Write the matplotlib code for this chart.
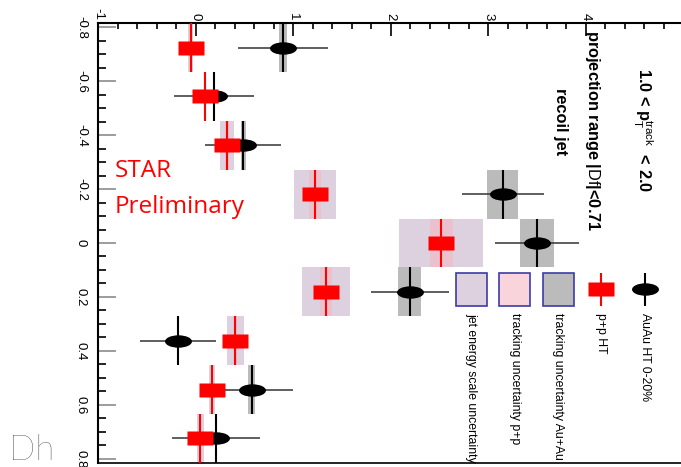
import numpy as np
import matplotlib
matplotlib.use("Agg")
import matplotlib.pyplot as plt
from matplotlib import font_manager
from matplotlib.path import Path
from matplotlib.patches import Rectangle
from matplotlib.ticker import MultipleLocator

# ---------------------------------------------------------------- data
# Delta-eta bin centres and half width of each bin
eta = [-0.724, -0.543, -0.362, -0.181, 0.0, 0.181, 0.362, 0.543, 0.724]
eta_halfwidth = 0.0905

# Au+Au HT 0-20%: yield, statistical error, tracking systematic
auau = [0.90, 0.19, 0.49, 3.15, 3.50, 2.195, -0.18, 0.575, 0.21]
auau_stat = [0.46, 0.41, 0.39, 0.42, 0.43, 0.40, 0.39, 0.42, 0.455]
auau_trk_sys = [0.04, 0.01, 0.025, 0.16, 0.175, 0.113, 0.01, 0.034, 0.01]

# p+p HT: yield, tracking systematic, jet-energy-scale systematic
pp = [-0.05, 0.10, 0.325, 1.23, 2.52, 1.34, 0.41, 0.17, 0.05]
pp_trk_sys = [0.015, 0.01, 0.02, 0.062, 0.116, 0.065, 0.02, 0.01, 0.01]
pp_jes_sys = [0.026, 0.01, 0.074, 0.215, 0.43, 0.245, 0.089, 0.03, 0.034]

value_ticks = [-1, 0, 1, 2, 3, 4, 5]
value_ticklabels = ["-1", "0", "1", "2", "3", "4", "5"]
eta_ticks = [-0.8, -0.6, -0.4, -0.2, 0.0, 0.2, 0.4, 0.6, 0.8]
eta_ticklabels = ["-0.8", "-0.6", "-0.4", "-0.2", "0", "0.2", "0.4", "0.6", "0.8"]

legend_labels = ["AuAu HT 0-20%", "p+p HT", "tracking uncertainty Au+Au",
                 "tracking uncertainty p+p", "jet energy scale uncertainty"]

# ---------------------------------------------------------------- style
def has_font(name):
    try:
        font_manager.findfont(name, fallback_to_default=False)
        return True
    except Exception:
        return False

NARROW = has_font("Liberation Sans Narrow")
NARROW_FAMILY = ["Liberation Sans Narrow", "Liberation Sans", "DejaVu Sans"] if NARROW \
    else ["Liberation Sans", "DejaVu Sans"]
LEG_SIZE = 10.2 if NARROW else 8.8
HEAD_SIZE = 14.0 if NARROW else 11.8

plt.rcParams["font.family"] = ["Liberation Sans", "DejaVu Sans"]
plt.rcParams["axes.unicode_minus"] = False
plt.rcParams["mathtext.fontset"] = "custom"
plt.rcParams["mathtext.rm"] = "Liberation Sans"
plt.rcParams["mathtext.bf"] = "Liberation Sans:bold"
plt.rcParams["mathtext.it"] = "Liberation Sans:italic"

RED = "#ff0000"
GRAY = "#bbbbbb"
PINK = "#f5b8c4"
PINK_ALPHA = 0.6
LAVENDER = "#ddd0df"
BOX_EDGE = "#3c3ca8"

# markers: flattened ellipse (Au+Au) and flat rectangle (p+p)
circ = Path.unit_circle()
ellipse_marker = Path(circ.vertices * np.array([1.0, 0.46]), circ.codes)
rect_marker = Path([(-1, -0.54), (1, -0.54), (1, 0.54), (-1, 0.54), (-1, -0.54)],
                   [Path.MOVETO, Path.LINETO, Path.LINETO, Path.LINETO, Path.CLOSEPOLY])
MS = 19.4

W, H = 681, 467
fig = plt.figure(figsize=(W / 100, H / 100), dpi=100)
ax = fig.add_axes([98 / W, 4 / H, 585 / W, 440 / H])
ax.set_xlim(-1, 5)
ax.set_ylim(0.815, -0.815)

eta_a = np.array(eta)
auau_a, auau_stat_a, auau_sys_a = map(np.array, (auau, auau_stat, auau_trk_sys))
pp_a, pp_trk_a, pp_jes_a = map(np.array, (pp, pp_trk_sys, pp_jes_sys))

# systematic boxes
ax.barh(eta_a, 2 * pp_jes_a, left=pp_a - pp_jes_a, height=2 * eta_halfwidth,
        color=LAVENDER, lw=0, zorder=1)
ax.barh(eta_a, 2 * pp_trk_a, left=pp_a - pp_trk_a, height=2 * eta_halfwidth,
        color=PINK, alpha=PINK_ALPHA, lw=0, zorder=1.1)
ax.barh(eta_a, 2 * auau_sys_a, left=auau_a - auau_sys_a, height=2 * eta_halfwidth,
        color=GRAY, lw=0, zorder=1.2)

# Au+Au points
ax.hlines(eta_a, auau_a - auau_stat_a, auau_a + auau_stat_a, color="#333333", lw=1.1, zorder=3)
ax.vlines(auau_a, eta_a - eta_halfwidth, eta_a + eta_halfwidth, color="black", lw=1.5, zorder=3)
ax.plot(auau_a, eta_a, ls="none", marker=ellipse_marker, ms=MS, mfc="black",
        mec="none", zorder=4)

# p+p points
ax.vlines(pp_a, eta_a - eta_halfwidth, eta_a + eta_halfwidth, color=RED, lw=1.5, zorder=5)
ax.plot(pp_a, eta_a, ls="none", marker=rect_marker, ms=MS, mfc=RED, mec="none", zorder=6)

# ---------------------------------------------------------------- axes
for side in ("left", "top"):
    ax.spines[side].set_linewidth(1.5)
ax.spines["bottom"].set_linewidth(1.2)
ax.spines["right"].set_visible(False)

ax.xaxis.tick_top()
ax.set_xticks(value_ticks)
ax.set_xticklabels(value_ticklabels)
ax.xaxis.set_minor_locator(MultipleLocator(0.2))
ax.set_yticks(eta_ticks)
ax.set_yticklabels(eta_ticklabels)
ax.yaxis.set_minor_locator(MultipleLocator(0.05))

ax.tick_params(axis="x", which="major", direction="in", length=9, width=1.2,
               labelsize=9.5, pad=2, labelrotation=-90, top=True, bottom=False)
ax.tick_params(axis="x", which="minor", direction="in", length=4.5, width=1.2,
               top=True, bottom=False)
ax.tick_params(axis="y", which="major", direction="in", length=13, width=1.2,
               color="#8c8c8c", labelsize=9.5, pad=8, labelrotation=-90,
               left=True, right=False)
ax.tick_params(axis="y", which="minor", direction="in", length=6, width=1.2,
               left=True, right=False)
for lab in ax.get_yticklabels():
    lab.set_va("center")

# ---------------------------------------------------------------- headings
head = dict(rotation=-90, rotation_mode="anchor", ha="left", va="baseline",
            fontsize=HEAD_SIZE, fontweight="bold", family=NARROW_FAMILY, zorder=7)
ax.text(4.53, -0.648, r"1.0 < $\mathbf{p}_{\mathrm{T}}^{\mathrm{track}}$  < 2.0", **head)
ax.text(4.03, -0.789, r"projection range |$\mathrm{Df}$|<0.71", **head)
ax.text(3.70, -0.574, "recoil jet", **head)

# ---------------------------------------------------------------- legend
leg_eta = 0.172
leg_top, leg_bot = 0.111, 0.233
leg_text_eta = 0.259
leg_x = [4.615, 4.164, 3.718, 3.272, 2.826]
box_hw = 0.159

ax.vlines([leg_x[0]], leg_top, leg_bot, color="black", lw=1.5, zorder=7)
ax.plot([leg_x[0]], [leg_eta], marker=ellipse_marker, ms=MS, mfc="black", mec="none",
        ls="none", zorder=8)
ax.vlines([leg_x[1]], leg_top, leg_bot, color=RED, lw=1.5, zorder=7)
ax.plot([leg_x[1]], [leg_eta], marker=rect_marker, ms=MS, mfc=RED, mec="none",
        ls="none", zorder=8)
for xc, fc, al in zip(leg_x[2:], [GRAY, PINK, LAVENDER], [1.0, PINK_ALPHA, 1.0]):
    ax.add_patch(Rectangle((xc - box_hw, leg_top), 2 * box_hw, leg_bot - leg_top,
                           facecolor=fc, alpha=al, edgecolor="none", zorder=7))
    ax.add_patch(Rectangle((xc - box_hw, leg_top), 2 * box_hw, leg_bot - leg_top,
                           facecolor="none", edgecolor=BOX_EDGE, lw=1.2, zorder=7.5))
for xc, lab in zip(leg_x, legend_labels):
    ax.text(xc, leg_text_eta, lab, rotation=-90, rotation_mode="anchor", ha="left",
            va="center", fontsize=LEG_SIZE, family=NARROW_FAMILY, zorder=8)

# ---------------------------------------------------------------- labels
fig.text(115 / W, 1 - 177 / H, "STAR", color=RED, fontsize=17.5,
         family=["Open Sans", "DejaVu Sans"], va="baseline", ha="left")
fig.text(115 / W, 1 - 213 / H, "Preliminary", color=RED, fontsize=17.5,
         family=["Open Sans", "DejaVu Sans"], va="baseline", ha="left")
fig.text(9 / W, 1 - 460 / H, "Dh", fontsize=25, fontweight="light", color="#222222",
         family=["Lato", "DejaVu Sans"], va="baseline", ha="left")

fig.savefig("out.png", dpi=100)
